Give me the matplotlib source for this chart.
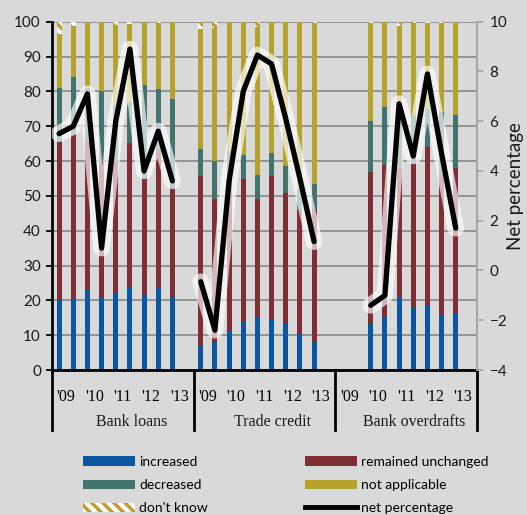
import matplotlib
matplotlib.use('Agg')
import matplotlib.pyplot as plt
import numpy as np
from matplotlib.patches import Patch
from matplotlib.lines import Line2D
import matplotlib.patheffects as pe
import matplotlib.transforms as mtransforms

# ---------------- data ----------------
groups = ['Bank loans', 'Trade credit', 'Bank overdrafts']
year_labels = ["'09", "'10", "'11", "'12", "'13"]

loans_increased = [20.0, 20.4, 23.0, 20.9, 22.1, 23.8, 21.5, 23.7, 21.0]
loans_unchanged = [45.6, 47.1, 43.0, 38.9, 37.9, 41.3, 33.5, 39.5, 31.6]
loans_decreased = [15.5, 16.7, 15.0, 20.2, 16.0, 11.9, 26.8, 17.6, 25.1]
loans_not_applicable = [15.4, 14.6, 19.0, 20.0, 23.0, 22.3, 18.2, 18.7, 22.3]
loans_dont_know = [3.5, 1.2, 0.0, 0.0, 1.0, 0.7, 0.0, 0.5, 0.0]
loans_net = [5.5, 5.8, 7.1, 0.9, 6.0, 8.9, 4.0, 5.6, 3.6]

trade_increased = [6.9, 8.1, 11.2, 13.7, 15.1, 14.6, 13.4, 10.2, 8.0]
trade_unchanged = [48.9, 41.0, 45.8, 41.1, 34.0, 41.2, 37.4, 35.8, 38.2]
trade_decreased = [7.6, 10.9, 6.0, 6.9, 6.9, 6.5, 7.9, 6.0, 7.2]
trade_not_applicable = [34.6, 38.3, 37.0, 38.3, 42.6, 37.7, 41.3, 48.0, 46.1]
trade_dont_know = [2.0, 1.7, 0.0, 0.0, 1.4, 0.0, 0.0, 0.0, 0.5]
trade_net = [-0.45, -2.4, 3.6, 7.2, 8.66, 8.3, 6.1, 3.7, 1.16]

overdraft_increased = [13.1, 15.3, 21.0, 17.9, 18.6, 15.8, 16.5]
overdraft_unchanged = [43.7, 43.7, 37.0, 41.4, 45.3, 40.2, 41.6]
overdraft_decreased = [14.7, 16.6, 14.0, 13.7, 11.1, 18.0, 15.1]
overdraft_not_applicable = [28.0, 24.4, 26.8, 26.7, 24.7, 25.7, 26.5]
overdraft_dont_know = [0.5, 0.0, 1.2, 0.3, 0.3, 0.3, 0.3]
overdraft_net = [-1.4, -1.0, 6.7, 4.6, 7.9, 4.7, 1.7]

# ---------------- style ----------------
BG = '#d9d9d9'
C_INC = '#0a56a0'
C_UNCH = '#7f2e36'
C_DEC = '#43736d'
C_NA = '#b5a22b'
C_DK = '#c49a2e'
GRID = '#8e8e8e'
SANS = ['Lato', 'DejaVu Sans']
SERIF = ['Liberation Serif', 'DejaVu Serif']
plt.rcParams['hatch.linewidth'] = 2.5

W, H = 527, 515
fig = plt.figure(figsize=(W / 100, H / 100), dpi=100, facecolor=BG)
ax = fig.add_axes([52 / W, (H - 370) / H, (477 - 52) / W, 348.3 / H])
ax.set_facecolor(BG)

series_by_group = [
    (loans_increased, loans_unchanged, loans_decreased, loans_not_applicable, loans_dont_know, loans_net),
    (trade_increased, trade_unchanged, trade_decreased, trade_not_applicable, trade_dont_know, trade_net),
    (overdraft_increased, overdraft_unchanged, overdraft_decreased, overdraft_not_applicable,
     overdraft_dont_know, overdraft_net),
]
slots_per_group = 10
start_offset = [0, 0, 2]
bw = 0.36

ax2 = ax.twinx()
for gi, (inc, unch, dec, na, dk, net) in enumerate(series_by_group):
    x = gi * slots_per_group + start_offset[gi] + np.arange(len(inc))
    bottom = np.zeros(len(inc))
    for vals, col in [(inc, C_INC), (unch, C_UNCH), (dec, C_DEC), (na, C_NA)]:
        ax.bar(x, vals, bw, bottom=bottom, color=col, linewidth=0, zorder=2)
        bottom = bottom + np.array(vals)
    ax.bar(x, dk, bw, bottom=bottom, facecolor='white', edgecolor=C_DK, hatch='\\\\\\',
           linewidth=0, zorder=2)
    ax2.plot(x, net, color='black', lw=3.8, solid_joinstyle='round', solid_capstyle='round',
             path_effects=[pe.Stroke(linewidth=12, foreground='white', alpha=0.66,
                                     joinstyle='round', capstyle='round'),
                           pe.Normal()],
             zorder=5)

ax.set_xlim(-0.5, 29.5)
ax.set_ylim(0, 100)
ax.set_yticks(np.arange(0, 101, 10))
ax.yaxis.grid(True, color=GRID, lw=1.3, zorder=0)
ax.set_axisbelow(True)
ax2.set_ylim(-4, 10)
ax2.set_yticks(np.arange(-4, 11, 2))

ax.spines['top'].set_visible(False)
ax2.spines['top'].set_visible(False)
ax.spines['left'].set_color('black')
ax.spines['left'].set_linewidth(2)
ax.spines['bottom'].set_color('black')
ax.spines['bottom'].set_linewidth(2)
ax.spines['right'].set_visible(False)
ax2.spines['left'].set_visible(False)
ax2.spines['bottom'].set_visible(False)
ax2.spines['right'].set_color('#a6a6a6')
ax2.spines['right'].set_linewidth(1.5)

ax.tick_params(axis='y', direction='out', length=4, width=1.3, color='black',
               labelsize=11, pad=4)
ax2.tick_params(axis='y', direction='out', length=4, width=1.3, color='#a6a6a6',
                labelsize=11, pad=5)
for lab in ax.get_yticklabels() + ax2.get_yticklabels():
    lab.set_family(SANS)
    lab.set_color('#1a1a1a')
fig.text(515 / W, 1 - 186 / H, 'Net percentage', rotation=90, ha='center', va='center',
         family=SANS, fontsize=13.5, color='#1a1a1a')

# category axis: years and groups
xt, xl = [], []
for gi in range(len(groups)):
    for k, yl in enumerate(year_labels):
        xt.append(gi * slots_per_group + 0.5 + 2 * k)
        xl.append(yl)
ax.set_xticks(xt)
ax.set_xticklabels(xl, family=SERIF, fontsize=11.5)
ax.tick_params(axis='x', length=0, pad=14)

trans = mtransforms.blended_transform_factory(ax.transData, ax.transAxes)
for gi, g in enumerate(groups):
    ax.text(gi * slots_per_group + 5.1, -0.15, g, transform=trans, ha='center', va='center',
            family=SERIF, fontsize=11.5, color='#1a1a1a')
for xs in [-0.5, 9.5, 19.5, 29.5]:
    ax.add_line(Line2D([xs, xs], [0, -0.172], transform=trans, color='black', lw=2,
                       clip_on=False))

# legend
h_inc = Patch(facecolor=C_INC, linewidth=0)
h_unch = Patch(facecolor=C_UNCH, linewidth=0)
h_dec = Patch(facecolor=C_DEC, linewidth=0)
h_na = Patch(facecolor=C_NA, linewidth=0)
h_dk = Patch(facecolor='white', edgecolor=C_DK, hatch='\\\\\\', linewidth=0)
h_net = Line2D([], [], color='black', lw=3.5)

common = dict(frameon=False, handlelength=3.75, handleheight=0.65,
              handletextpad=0.3, labelspacing=0.8, borderpad=0, borderaxespad=0,
              loc='upper left', prop={'family': SANS, 'size': 10})
fig.legend([h_inc, h_dec, h_dk], ['increased', 'decreased', "don't know"],
           bbox_to_anchor=(83 / W, 1 - 456 / H), **common)
fig.legend([h_unch, h_na, h_net], ['remained unchanged', 'not applicable', 'net percentage'],
           bbox_to_anchor=(305 / W, 1 - 456 / H), **common)

fig.savefig('out.png', dpi=100, facecolor=BG)
